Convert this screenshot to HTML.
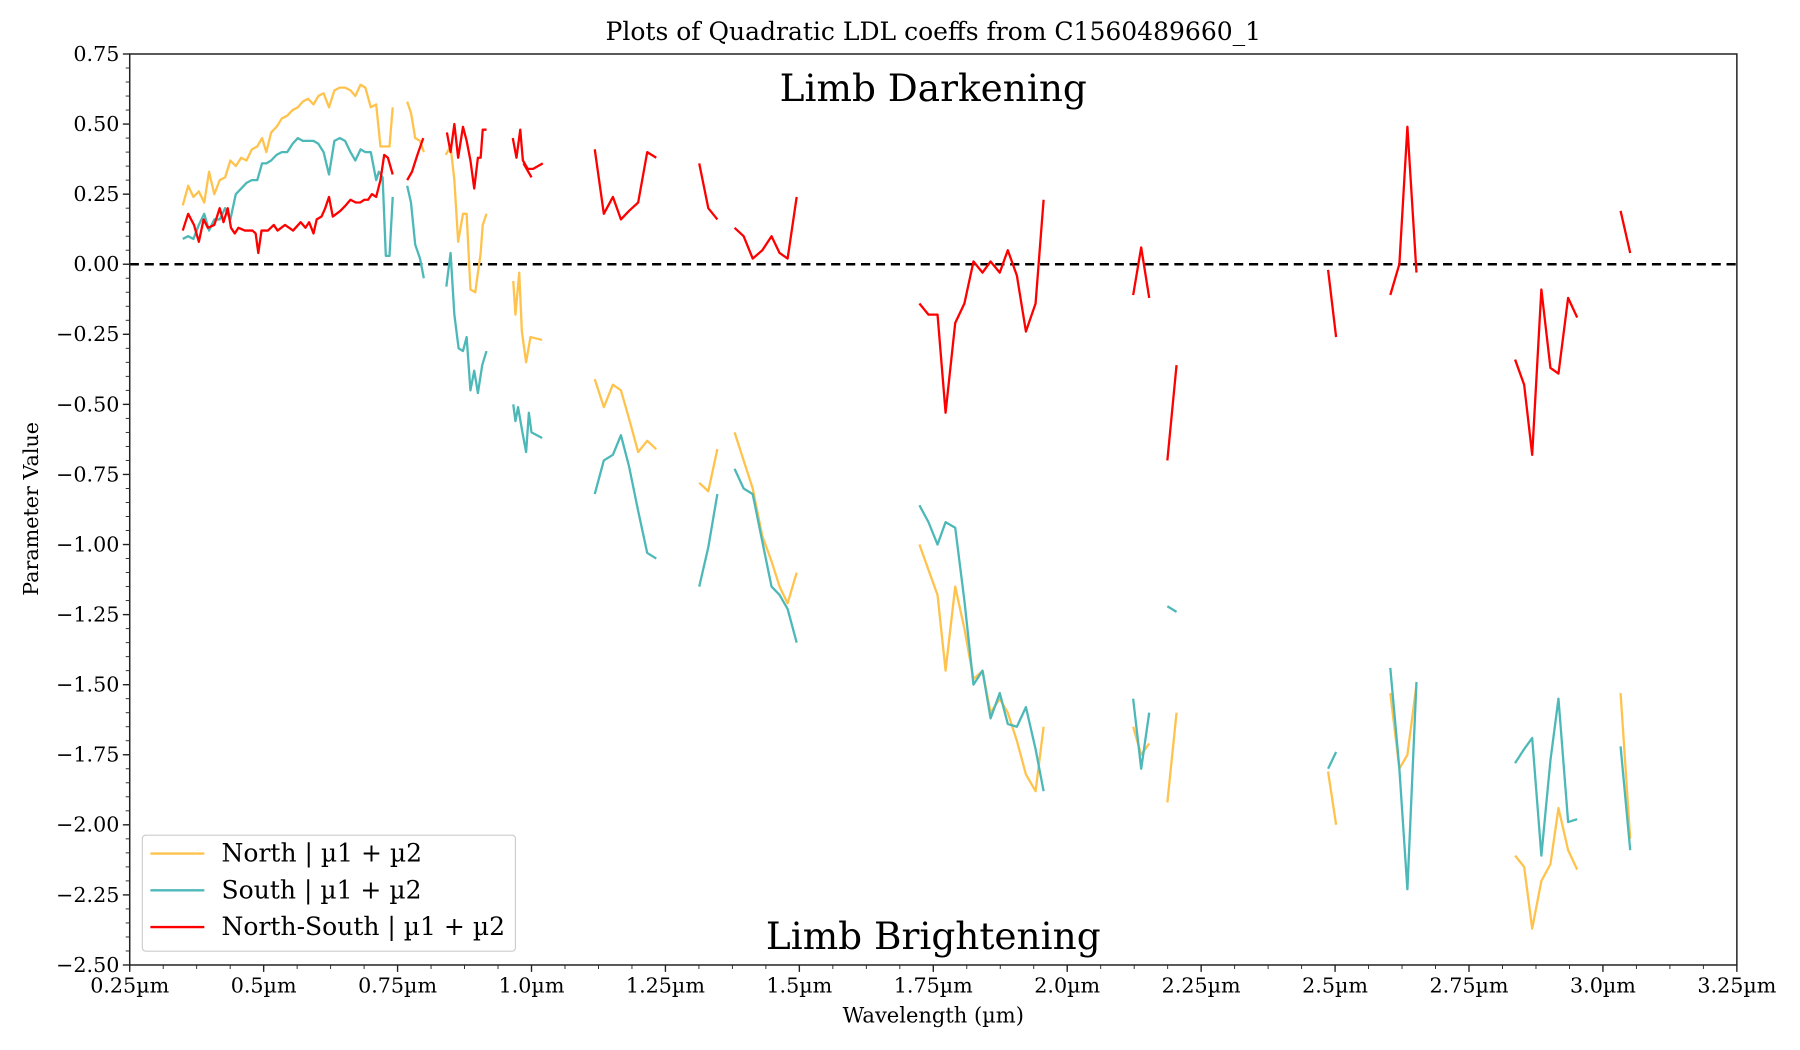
<!DOCTYPE html>
<html><head><meta charset="utf-8"><style>
html,body{margin:0;padding:0;background:#fff;}
svg{display:block;font-family:"DejaVu Serif","Liberation Serif",serif;}
</style></head><body>
<svg id="chart" width="1800" height="1050" viewBox="0 0 1568 914" preserveAspectRatio="none" xmlns="http://www.w3.org/2000/svg">
<text x="813" y="35" text-anchor="middle" font-size="21.8">Plots of Quadratic LDL coeffs from C1560489660_1</text>
<text x="813" y="890" text-anchor="middle" font-size="18.3">Wavelength (µm)</text>
<text x="0" y="0" transform="translate(33,443) rotate(-90)" text-anchor="middle" font-size="18">Parameter Value</text>
<g id="plot"></g>
</svg>
<script>
const xTicks=[0.25,0.5,0.75,1.0,1.25,1.5,1.75,2.0,2.25,2.5,2.75,3.0,3.25];
const xTickLabels=["0.25µm","0.5µm","0.75µm","1.0µm","1.25µm","1.5µm","1.75µm","2.0µm","2.25µm","2.5µm","2.75µm","3.0µm","3.25µm"];
const yTicks=[0.75,0.5,0.25,0,-0.25,-0.5,-0.75,-1,-1.25,-1.5,-1.75,-2,-2.25,-2.5];
const yTickLabels=["0.75","0.50","0.25","0.00","−0.25","−0.50","−0.75","−1.00","−1.25","−1.50","−1.75","−2.00","−2.25","−2.50"];
const seriesNames=["North | µ1 + µ2","South | µ1 + µ2","North-South | µ1 + µ2"];
const wLate=[null,1.118,1.135,1.152,1.167,1.182,1.199,1.216,1.233,null,1.313,1.330,1.347,null,1.379,1.396,1.413,1.431,1.448,1.463,1.478,1.495,null,1.724,1.741,1.758,1.773,1.791,1.808,1.825,1.842,1.857,1.874,1.889,1.906,1.923,1.941,1.956,null,2.123,2.138,2.153,null,2.187,2.204,null,2.487,2.502,null,2.603,2.620,2.635,2.652,null,2.836,2.853,2.868,2.885,2.902,2.917,2.935,2.952,null,3.033,3.051];
const northLate=[null,-0.41,-0.51,-0.43,-0.45,-0.55,-0.67,-0.63,-0.66,null,-0.78,-0.81,-0.66,null,-0.60,-0.70,-0.80,-0.97,-1.06,-1.15,-1.21,-1.10,null,-1.00,-1.09,-1.18,-1.45,-1.15,-1.30,-1.48,-1.45,-1.60,-1.55,-1.60,-1.70,-1.82,-1.88,-1.65,null,-1.65,-1.75,-1.71,null,-1.92,-1.60,null,-1.81,-2.00,null,-1.53,-1.80,-1.75,-1.50,null,-2.11,-2.15,-2.37,-2.20,-2.14,-1.94,-2.09,-2.16,null,-1.53,-2.05];
const southLate=[null,-0.82,-0.70,-0.68,-0.61,-0.72,-0.88,-1.03,-1.05,null,-1.15,-1.01,-0.82,null,-0.73,-0.80,-0.82,-0.99,-1.15,-1.18,-1.23,-1.35,null,-0.86,-0.92,-1.00,-0.92,-0.94,-1.20,-1.50,-1.45,-1.62,-1.53,-1.64,-1.65,-1.58,-1.73,-1.88,null,-1.55,-1.80,-1.60,null,-1.22,-1.24,null,-1.80,-1.74,null,-1.44,-1.80,-2.23,-1.49,null,-1.78,-1.73,-1.69,-2.11,-1.77,-1.55,-1.99,-1.98,null,-1.72,-2.09];
const diffLate=[null,0.41,0.18,0.24,0.16,0.19,0.22,0.40,0.38,null,0.36,0.20,0.16,null,0.13,0.10,0.02,0.05,0.10,0.04,0.02,0.24,null,-0.14,-0.18,-0.18,-0.53,-0.21,-0.14,0.01,-0.03,0.01,-0.03,0.05,-0.04,-0.24,-0.14,0.23,null,-0.11,0.06,-0.12,null,-0.70,-0.36,null,-0.02,-0.26,null,-0.11,0.00,0.49,-0.03,null,-0.34,-0.43,-0.68,-0.09,-0.37,-0.39,-0.12,-0.19,null,0.19,0.04];
const northEarlyW=[0.349,0.359,0.369,0.379,0.389,0.398,0.408,0.418,0.428,0.438,0.448,0.458,0.468,0.478,0.488,0.497,0.505,0.514,0.524,0.534,0.544,0.554,0.564,0.573,0.583,0.593,0.602,0.612,0.622,0.632,0.642,0.652,0.662,0.671,0.681,0.690,0.700,0.710,0.718,0.728,0.735,0.741,null,0.768,0.775,0.783,0.792,0.799,null,0.840,0.849,0.856,0.863,0.872,0.879,0.886,0.895,0.905,0.909,0.916,null,0.966,0.970,0.977,0.982,0.990,0.998,1.020];
const northEarly=[0.21,0.28,0.24,0.26,0.22,0.33,0.25,0.30,0.31,0.37,0.35,0.38,0.37,0.41,0.42,0.45,0.40,0.47,0.49,0.52,0.53,0.55,0.56,0.58,0.59,0.57,0.60,0.61,0.56,0.62,0.63,0.63,0.62,0.60,0.64,0.63,0.56,0.57,0.42,0.42,0.42,0.56,null,0.58,0.54,0.45,0.44,0.40,null,0.39,0.42,0.30,0.08,0.18,0.18,-0.09,-0.10,0.04,0.14,0.18,null,-0.06,-0.18,-0.03,-0.24,-0.35,-0.26,-0.27];
const southEarlyW=[0.349,0.359,0.369,0.379,0.389,0.398,0.408,0.418,0.428,0.438,0.448,0.458,0.468,0.478,0.488,0.497,0.505,0.514,0.524,0.534,0.544,0.554,0.564,0.573,0.583,0.593,0.602,0.612,0.622,0.632,0.642,0.652,0.662,0.671,0.681,0.690,0.700,0.710,0.715,0.722,0.728,0.735,0.741,null,0.768,0.775,0.783,0.792,0.799,null,0.841,0.849,0.856,0.864,0.872,0.879,0.886,0.893,0.900,0.908,0.916,null,0.966,0.970,0.975,0.983,0.990,0.995,1.000,1.020];
const southEarly=[0.09,0.10,0.09,0.14,0.18,0.12,0.16,0.16,0.20,0.16,0.25,0.27,0.29,0.30,0.30,0.36,0.36,0.37,0.39,0.40,0.40,0.43,0.45,0.44,0.44,0.44,0.43,0.40,0.32,0.44,0.45,0.44,0.40,0.37,0.41,0.40,0.40,0.30,0.33,0.31,0.03,0.03,0.24,null,0.28,0.22,0.07,0.02,-0.05,null,-0.08,0.04,-0.18,-0.30,-0.31,-0.26,-0.45,-0.38,-0.46,-0.36,-0.31,null,-0.50,-0.56,-0.51,-0.60,-0.67,-0.53,-0.60,-0.62];
const diffEarlyW=[0.349,0.359,0.370,0.379,0.388,0.396,0.408,0.418,0.425,0.433,0.439,0.446,0.453,0.465,0.479,0.485,0.490,0.496,0.508,0.519,0.526,0.540,0.555,0.569,0.578,0.585,0.593,0.599,0.608,0.615,0.622,0.629,0.643,0.653,0.662,0.672,0.680,0.688,0.695,0.702,0.710,0.718,0.725,0.732,0.741,null,0.768,0.777,0.787,0.798,null,0.842,0.849,0.856,0.863,0.872,0.879,0.886,0.893,0.900,0.905,0.909,0.916,null,0.965,0.972,0.979,0.984,0.993,1.003,1.021,null,0.985,1.000];
const diffEarly=[0.12,0.18,0.14,0.08,0.16,0.13,0.14,0.20,0.15,0.20,0.13,0.11,0.13,0.12,0.12,0.11,0.04,0.12,0.12,0.14,0.12,0.14,0.12,0.15,0.13,0.15,0.11,0.16,0.17,0.20,0.24,0.17,0.19,0.21,0.23,0.22,0.22,0.23,0.23,0.25,0.24,0.30,0.39,0.38,0.32,null,0.30,0.33,0.39,0.45,null,0.47,0.40,0.50,0.38,0.49,0.44,0.37,0.27,0.38,0.38,0.48,0.48,null,0.45,0.38,0.48,0.37,0.34,0.34,0.36,null,0.36,0.31];

const NS="http://www.w3.org/2000/svg";
const L=113,R=1513,T=47,B=840,xMin=0.25,xMax=3.25,yMin=-2.5,yMax=0.75;
function xs(v){return L+(v-xMin)/(xMax-xMin)*(R-L);}
function ys(v){return B-(v-yMin)/(yMax-yMin)*(B-T);}
const g=document.getElementById('plot');
function mk(tag,attrs,parent){const e=document.createElementNS(NS,tag);for(const k in attrs)e.setAttribute(k,attrs[k]);(parent||g).appendChild(e);return e;}

for(let i=0;i<yTicks.length;i++){
  const y=ys(yTicks[i]);
  const t=mk('line',{x1:L-6,x2:L,y1:y,y2:y,stroke:'#222','stroke-width':1.2});
  
  
  const lb=mk('text',{x:L-9,y:y+6,'text-anchor':'end','font-size':18});
  lb.textContent=yTickLabels[i];
  
  
}
for(let v=yMin;v<=yMax+1e-9;v+=0.05){
  const y=ys(v);
  const m=mk('line',{x1:L-3.5,x2:L,y1:y,y2:y,stroke:'#222','stroke-width':0.8});
  
  
}
for(let i=0;i<xTicks.length;i++){
  const x=xs(xTicks[i]);
  const t=mk('line',{x1:x,x2:x,y1:B,y2:B+6,stroke:'#222','stroke-width':1.2});
  
  
  const lb=mk('text',{x:x,y:B+24,'text-anchor':'middle','font-size':18});
  lb.textContent=xTickLabels[i];
  
  
}
for(let v=xMin;v<=xMax+1e-9;v+=0.0625){
  const x=xs(v);
  const m=mk('line',{x1:x,x2:x,y1:B,y2:B+3.5,stroke:'#222','stroke-width':0.8});
  
  
}
const z=mk('line',{x1:L,x2:R,y1:ys(0),y2:ys(0),stroke:'#000','stroke-width':2.2,'stroke-dasharray':'8,5'});



function pathOf(w,v){let d='',pen=false;for(let i=0;i<w.length;i++){if(w[i]===null||v[i]===null){pen=false;continue;}d+=(pen?'L':'M')+xs(w[i]).toFixed(1)+','+ys(v[i]).toFixed(1);pen=true;}return d;}
const cols=['#ffc34d','#4db8b8','#ff0000'];
const sets=[[northEarlyW,northEarly,wLate,northLate],[southEarlyW,southEarly,wLate,southLate],[diffEarlyW,diffEarly,wLate,diffLate]];
const names=['north-series','south-series','north-south-series'];
for(let s=0;s<3;s++){
  const d=pathOf(sets[s][0],sets[s][1])+pathOf(sets[s][2],sets[s][3]);
  const p=mk('path',{d:d,fill:'none',stroke:cols[s],'stroke-width':2,'stroke-linejoin':'round'});
  
  
}
const fr=mk('rect',{x:L,y:T,width:R-L,height:B-T,fill:'none',stroke:'#222','stroke-width':1.3});


const a1=mk('text',{x:813,y:88,'text-anchor':'middle','font-size':32.6});
a1.textContent='Limb Darkening';


const a2=mk('text',{x:813,y:826,'text-anchor':'middle','font-size':32.6});
a2.textContent='Limb Brightening';


const lg=mk('g',{});


mk('rect',{x:124,y:727,width:325,height:101,rx:3,fill:'#fff','fill-opacity':0.85,stroke:'#ccc','stroke-width':1},lg);
for(let s=0;s<3;s++){
  const y=743+s*32;
  const e=mk('g',{},lg);
  
  
  mk('line',{x1:131,x2:178,y1:y,y2:y,stroke:cols[s],'stroke-width':2},e);
  const t=mk('text',{x:193,y:y+7,'font-size':21.8},e);
  t.textContent=seriesNames[s];
}
</script>
</body></html>
